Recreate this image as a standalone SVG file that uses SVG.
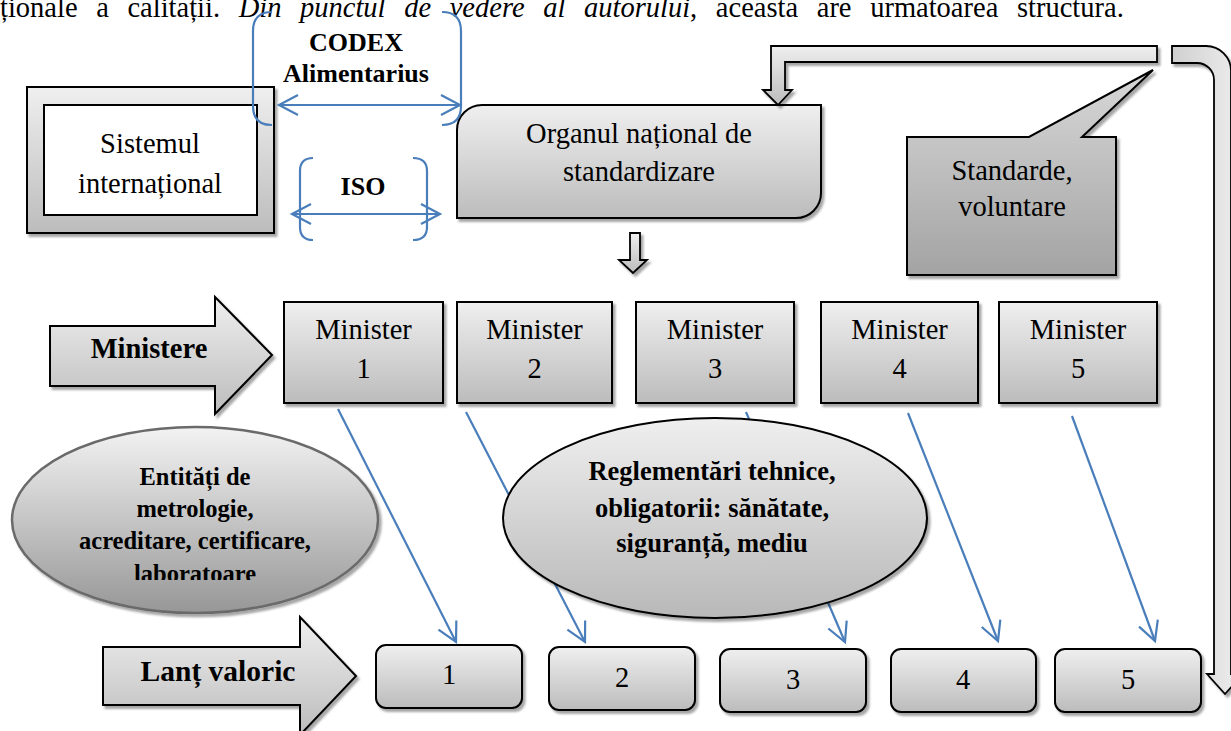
<svg xmlns="http://www.w3.org/2000/svg" width="1231" height="731" viewBox="0 0 1231 731">
<style>
.t{font-family:"Liberation Serif","Times New Roman",serif;fill:#000;text-anchor:middle}
.f{font-size:28.5px}
.b{font-weight:bold}
.box{fill:url(#gBox);stroke:#000;stroke-width:2;filter:url(#sh)}
.blue{stroke:#4a7ebb;stroke-width:2.2;fill:none}
</style>
<defs>
<linearGradient id="gBox" x1="0" y1="0" x2="0" y2="1"><stop offset="0" stop-color="#efefef"/><stop offset="1" stop-color="#bcbcbc"/></linearGradient>
<linearGradient id="gCall" x1="0" y1="0" x2="0" y2="1"><stop offset="0" stop-color="#d8d8d8"/><stop offset="1" stop-color="#a3a3a3"/></linearGradient>
<linearGradient id="gE1" x1="0" y1="0" x2="0" y2="1"><stop offset="0" stop-color="#f3f3f3"/><stop offset="1" stop-color="#979797"/></linearGradient>
<linearGradient id="gE2" x1="0" y1="0" x2="0" y2="1"><stop offset="0" stop-color="#efefef"/><stop offset="1" stop-color="#b8b8b8"/></linearGradient>
<linearGradient id="gU" x1="0" y1="0" x2="1" y2="0"><stop offset="0" stop-color="#d0d0d0"/><stop offset="1" stop-color="#eeeeee"/></linearGradient>
<filter id="sh" x="-10%" y="-10%" width="130%" height="130%"><feDropShadow dx="2.5" dy="3" stdDeviation="1.2" flood-color="#000" flood-opacity="0.35"/></filter>
<marker id="ah" markerUnits="userSpaceOnUse" markerWidth="24" markerHeight="24" viewBox="-21 -12 24 24" refX="0" refY="0" orient="auto-start-reverse">
<path d="M-19,-10 L0,0 L-19,10" fill="none" stroke="#4a7ebb" stroke-width="2.2"/>
</marker>
<clipPath id="clipE"><rect x="0" y="420" width="400" height="160"/></clipPath>
</defs>

<text class="t f" x="0" y="17" style="text-anchor:start;word-spacing:11.5px">ționale a calității. <tspan font-style="italic">Din punctul de vedere al autorului</tspan>, aceasta are următoarea structură.</text>

<g id="sistemul">
<rect x="27" y="87" width="247" height="146" fill="url(#gBox)" stroke="#000" stroke-width="2" filter="url(#sh)"/>
<rect x="44" y="105" width="213" height="110" fill="#fff" stroke="#000" stroke-width="2"/>
<text class="t f" x="150" y="153">Sistemul</text>
<text class="t f" x="150" y="193">internațional</text>
</g>

<g id="organul">
<path class="box" d="M482,105 L821,105 L821,193 A25,25 0 0 1 796,218 L457,218 L457,130 A25,25 0 0 1 482,105 Z"/>
<text class="t f" x="639" y="143">Organul național de</text>
<text class="t f" x="639" y="181">standardizare</text>
</g>

<g id="arrow-down-small">
<path d="M630,233 L640,233 L640,260 L647,260 L633,273 L619,260 L630,260 Z" fill="url(#gBox)" stroke="#000" stroke-width="1.8" filter="url(#sh)"/>
</g>

<g id="arrow-top-bent">
<path d="M1157,46 L771,46 L771,90 L763,90 L778,105 L792,90 L785,90 L785,62 L1157,62 Z" fill="url(#gBox)" stroke="#000" stroke-width="1.8" filter="url(#sh)"/>
</g>

<g id="arrow-right-u">
<path d="M1172,46 L1205,46 A25,25 0 0 1 1231,72 L1231,674 L1243,674 L1225,694 L1207,674 L1214,674 L1214,80 A17,17 0 0 0 1197,63 L1172,63 Z" fill="url(#gU)" stroke="#000" stroke-width="1.8" filter="url(#sh)"/>
</g>

<g id="standarde">
<path d="M907,137 L1029,137 L1153,70 L1082,137 L1116,137 L1116,275 L907,275 Z" fill="url(#gCall)" stroke="#000" stroke-width="2" filter="url(#sh)"/>
<text class="t f" x="1012" y="180">Standarde,</text>
<text class="t f" x="1012" y="216">voluntare</text>
</g>

<g id="ministere">
<path d="M50,326 L215,326 L215,297 L272,355 L215,414 L215,386 L50,386 Z" class="box"/>
<text class="t f b" x="149" y="358">Ministere</text>
</g>

<g id="minister1"><rect class="box" x="284" y="302" width="159" height="101"/><text class="t f" x="363.5" y="339">Minister</text><text class="t f" x="363.5" y="378">1</text></g>
<g id="minister2"><rect class="box" x="457" y="302" width="155" height="101"/><text class="t f" x="534.5" y="339">Minister</text><text class="t f" x="534.5" y="378">2</text></g>
<g id="minister3"><rect class="box" x="636" y="302" width="158" height="101"/><text class="t f" x="715" y="339">Minister</text><text class="t f" x="715" y="378">3</text></g>
<g id="minister4"><rect class="box" x="821" y="302" width="157" height="101"/><text class="t f" x="899.5" y="339">Minister</text><text class="t f" x="899.5" y="378">4</text></g>
<g id="minister5"><rect class="box" x="999" y="302" width="158" height="101"/><text class="t f" x="1078" y="339">Minister</text><text class="t f" x="1078" y="378">5</text></g>

<g id="lant">
<path d="M103,647 L300,647 L300,617 L356,676 L300,735 L300,705 L103,705 Z" class="box"/>
<text class="t b" x="218" y="681" style="font-size:29.5px">Lanț valoric</text>
</g>

<g id="v1"><rect class="box" x="376" y="645" width="146" height="63" rx="10"/><text class="t f" x="449" y="684">1</text></g>
<g id="v2"><rect class="box" x="549" y="647" width="146" height="63" rx="10"/><text class="t f" x="622" y="687">2</text></g>
<g id="v3"><rect class="box" x="720" y="649" width="146" height="63" rx="10"/><text class="t f" x="793" y="689">3</text></g>
<g id="v4"><rect class="box" x="891" y="649" width="145" height="63" rx="10"/><text class="t f" x="963" y="689">4</text></g>
<g id="v5"><rect class="box" x="1055" y="649" width="146" height="63" rx="10"/><text class="t f" x="1128" y="689">5</text></g>

<g id="connectors">
<path class="blue" d="M338,409 L456,642" marker-end="url(#ah)"/>
<path class="blue" d="M466,412 L585,642" marker-end="url(#ah)"/>
<path class="blue" d="M746,412 L845,642" marker-end="url(#ah)"/>
<path class="blue" d="M908,413 L998,641" marker-end="url(#ah)"/>
<path class="blue" d="M1072,416 L1155,641" marker-end="url(#ah)"/>
</g>

<g id="entitati">
<ellipse cx="195" cy="520" rx="183" ry="93" fill="url(#gE1)" stroke="#6a6a6a" stroke-width="2.5" filter="url(#sh)"/>
<g clip-path="url(#clipE)" class="b" style="font-size:24.5px">
<text class="t" x="195" y="485">Entități de</text>
<text class="t" x="195" y="517">metrologie,</text>
<text class="t" x="195" y="549">acreditare, certificare,</text>
<text class="t" x="195" y="582">laboratoare</text>
</g>
</g>

<g id="reglementari">
<ellipse cx="715" cy="518" rx="212" ry="100" fill="url(#gE2)" stroke="#000" stroke-width="2" filter="url(#sh)"/>
<text class="t b" x="712" y="480" style="font-size:26.5px">Reglementări tehnice,</text>
<text class="t b" x="712" y="517" style="font-size:26.5px">obligatorii: sănătate,</text>
<text class="t b" x="712" y="552" style="font-size:26.5px">siguranță, mediu</text>
</g>

<g id="codex">
<path class="blue" d="M272,12 Q253,12 253,31 L253,106 Q253,125 272,125"/>
<path class="blue" d="M442,12 Q461,12 461,31 L461,106 Q461,125 442,125"/>
<path class="blue" d="M279,105 L460,105" marker-start="url(#ah)" marker-end="url(#ah)"/>
<text class="t b" x="356" y="51" style="font-size:26px">CODEX</text>
<text class="t b" x="356" y="82" style="font-size:26px">Alimentarius</text>
</g>

<g id="iso">
<path class="blue" d="M313,158 Q300,158 300,171 L300,227 Q300,240 313,240"/>
<path class="blue" d="M413,158 Q427,158 427,171 L427,227 Q427,240 413,240"/>
<path class="blue" d="M292,214 L440,214" marker-start="url(#ah)" marker-end="url(#ah)"/>
<text class="t b" x="363" y="195" style="font-size:26px">ISO</text>
</g>
</svg>
